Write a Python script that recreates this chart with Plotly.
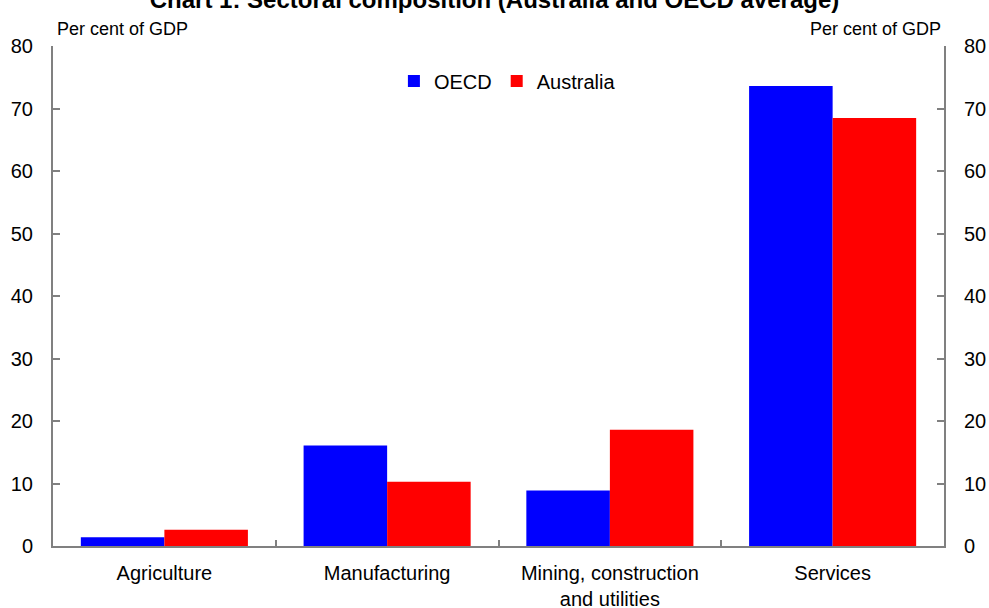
import plotly.graph_objects as go

categories = ["Agriculture", "Manufacturing", "Mining, construction<br>and utilities", "Services"]
oecd = [1.4, 16.1, 8.9, 73.6]
australia = [2.6, 10.3, 18.6, 68.5]
y_ticks = [0, 10, 20, 30, 40, 50, 60, 70, 80]

FONT = "Liberation Sans, Arial, sans-serif"
AX = "#808080"

fig = go.Figure()
fig.add_trace(go.Bar(x=categories, y=oecd, name="OECD", marker=dict(color="#0000FF", line=dict(width=0))))
fig.add_trace(go.Bar(x=categories, y=australia, name="Australia", marker=dict(color="#FF0000", line=dict(width=0))))
fig.add_trace(go.Scatter(x=categories, y=[None] * 4, yaxis="y2", showlegend=False, hoverinfo="skip"))

yax = dict(range=[0, 80], tickvals=y_ticks, ticks="inside", ticklen=7, tickcolor=AX, tickwidth=2,
           showline=True, linecolor=AX, linewidth=2, showgrid=False, zeroline=False,
           ticklabelstandoff=14, automargin=False,
           tickfont=dict(size=20, color="#000000", family=FONT), fixedrange=True)

fig.update_layout(
    width=989, height=608,
    margin=dict(l=53, r=45, t=46, b=62),
    paper_bgcolor="white", plot_bgcolor="white",
    barmode="group", bargap=0.25, bargroupgap=0,
    font=dict(family=FONT, color="#000000"),
    title=dict(text="<b>Chart 1: Sectoral composition (Australia and OECD average)</b>",
               x=0.5, xanchor="center", y=1, yanchor="middle", automargin=False,
               font=dict(size=24, family=FONT, color="#000000")),
    xaxis=dict(showline=True, linecolor=AX, linewidth=2, ticks="inside", tickson="boundaries",
               ticklen=6, tickcolor=AX, tickwidth=2, showgrid=False, ticklabelstandoff=8,
               automargin=False,
               tickfont=dict(size=20, color="#000000", family=FONT)),
    yaxis=yax,
    yaxis2=dict(yax, overlaying="y", side="right"),
    legend=dict(orientation="h", x=0.51, xanchor="center", y=0.93, yanchor="middle",
                font=dict(size=20, family=FONT), bgcolor="rgba(0,0,0,0)",
                itemwidth=30, tracegroupgap=0),
    annotations=[
        dict(text="Per cent of GDP", x=0, xref="paper", xanchor="left", y=1, yref="paper",
             yanchor="bottom", yshift=5, xshift=2, showarrow=False, font=dict(size=18, family=FONT)),
        dict(text="Per cent of GDP", x=1, xref="paper", xanchor="right", y=1, yref="paper",
             yanchor="bottom", yshift=5, xshift=-1, showarrow=False, font=dict(size=18, family=FONT)),
    ],
)

fig.write_html("out.html")
